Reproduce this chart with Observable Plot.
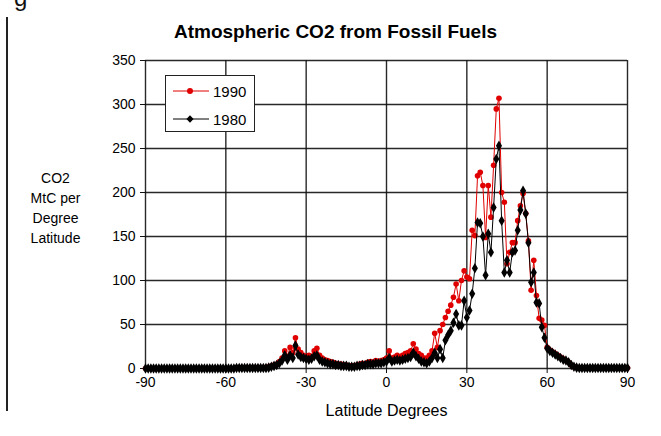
<!DOCTYPE html>
<html>
<head>
<meta charset="utf-8">
<script src="https://cdn.jsdelivr.net/npm/d3@7"></script>
<script src="https://cdn.jsdelivr.net/npm/@observablehq/plot@0.6"></script>
<style>
  body { margin: 0; background: #fff; }
  #wrap { position: relative; width: 661px; height: 436px; overflow: hidden; font-family: "Liberation Sans", Arial, sans-serif; }
  #edge { position: absolute; left: 6px; top: 17px; width: 1.5px; height: 394px; background: #222; }
  #g { position: absolute; left: 14px; top: -16px; font-size: 24px; line-height: 28px; color: #111; }
  #legend { position: absolute; left: 165px; top: 75px; width: 90px; height: 57px; border: 1px solid #222; background: #fff; box-sizing: border-box; }
  .row { position: absolute; left: 6px; height: 18px; display: flex; align-items: center; font-size: 15px; color: #000; }
  .row svg { margin-right: 3px; }
</style>
</head>
<body>
<div id="wrap">
  <div id="edge"></div>
  <div id="g">g</div>
  <div id="chart"></div>
  <div id="legend">
    <div class="row" style="top:6px"><svg width="38" height="12"><line x1="1" y1="6" x2="37" y2="6" stroke="#e00000" stroke-width="1"/><circle cx="18" cy="6" r="3" fill="#e00000"/></svg>1990</div>
    <div class="row" style="top:34px"><svg width="38" height="12"><line x1="1" y1="6" x2="37" y2="6" stroke="#000" stroke-width="1"/><path d="M18,2.2L21.6,6L18,9.8L14.4,6Z" fill="#000"/></svg>1980</div>
  </div>
</div>
<script>
const title = "Atmospheric CO2 from Fossil Fuels";
const xLabel = "Latitude Degrees";
const yLabel = "CO2\nMtC per\nDegree\nLatitude";
const seriesNames = ["1990", "1980"];
const xTicks = [-90, -60, -30, 0, 30, 60, 90];
const yTicks = [0, 50, 100, 150, 200, 250, 300, 350];

// latitude of each value: -90 .. 90, one per degree
const latitudes = [
  -90,-89,-88,-87,-86,-85,-84,-83,-82,-81,-80,-79,-78,-77,-76,-75,-74,-73,-72,-71,
  -70,-69,-68,-67,-66,-65,-64,-63,-62,-61,-60,-59,-58,-57,-56,-55,-54,-53,-52,-51,
  -50,-49,-48,-47,-46,-45,-44,-43,-42,-41,-40,-39,-38,-37,-36,-35,-34,-33,-32,-31,
  -30,-29,-28,-27,-26,-25,-24,-23,-22,-21,-20,-19,-18,-17,-16,-15,-14,-13,-12,-11,
  -10,-9,-8,-7,-6,-5,-4,-3,-2,-1,0,1,2,3,4,5,6,7,8,9,
  10,11,12,13,14,15,16,17,18,19,20,21,22,23,24,25,26,27,28,29,
  30,31,32,33,34,35,36,37,38,39,40,41,42,43,44,45,46,47,48,49,
  50,51,52,53,54,55,56,57,58,59,60,61,62,63,64,65,66,67,68,69,
  70,71,72,73,74,75,76,77,78,79,80,81,82,83,84,85,86,87,88,89,90
];

const co2_1990 = [
  0,0,0,0,0,0,0,0,0,0,0,0,0,0,0,0,0,0,0,0,
  0,0,0,0,0,0,0,0,0,0,0,0,0,0,1,1,1,1,1,1,
  1,1,1,1,1,1,2,3,4,5,8,12,20,14,24,18,35,22,18,15,
  14,15,14,20,23,15,12,10,9,8,7,6,5,5,4,4,3,3,3,4,
  5,6,5,7,8,7,9,8,9,10,12,20,12,13,15,13,15,17,18,20,
  28,22,17,15,12,12,15,20,40,24,43,50,58,65,72,81,96,77,100,111,
  104,102,157,151,219,223,208,149,208,172,231,295,307,200,189,119,132,143,143,168,
  185,199,176,145,89,123,83,57,55,49,24,21,19,17,15,13,11,9,7,4,
  2,1,0.5,0.5,0.5,0.5,0.5,0.5,0.5,0.5,0.5,0.5,0.5,0.5,0.5,0.5,0.5,0.5,0.5,0.5,0.5
];

const co2_1980 = [
  0,0,0,0,0,0,0,0,0,0,0,0,0,0,0,0,0,0,0,0,
  0,0,0,0,0,0,0,0,0,0,0,0,0,0,0.5,0.5,0.5,0.5,0.5,0.5,
  0.5,0.5,0.5,0.5,0.5,0.5,1,2,3,4,6,9,15,10,15,12,26,16,13,12,
  11,10,11,14,15,10,8,7,6,5,5,4,4,3,3,3,2,2,2,3,
  3,4,4,5,5,5,6,6,6,7,8,12,8,9,10,9,10,11,12,13,
  18,14,11,8,7,6,8,12,18,12,22,12,32,38,43,52,62,49,49,77,
  58,66,85,114,166,165,150,106,153,132,183,238,253,168,109,123,109,132,134,157,
  180,202,176,143,98,109,75,74,47,35,23,20,18,16,14,12,10,9,7,4,
  2,1,0.5,0.5,0.5,0.5,0.5,0.5,0.5,0.5,0.5,0.5,0.5,0.5,0.5,0.5,0.5,0.5,0.5,0.5,0.5
];

const d1990 = latitudes.map((lat, i) => ({lat, v: co2_1990[i], s: seriesNames[0]}));
const d1980 = latitudes.map((lat, i) => ({lat, v: co2_1980[i], s: seriesNames[1]}));

const font = "Liberation Sans, Arial, sans-serif";
const chart = Plot.plot({
  width: 661,
  height: 436,
  marginLeft: 145,
  marginRight: 34,
  marginTop: 60,
  marginBottom: 68,
  style: {fontFamily: font, fontSize: "14px", color: "#000", background: "transparent"},
  x: {domain: [-90, 90], ticks: xTicks},
  y: {domain: [0, 350], ticks: yTicks},
  marks: [
    Plot.gridX(xTicks, {stroke: "#111", strokeOpacity: 0.9, strokeWidth: 1.4}),
    Plot.gridY(yTicks, {stroke: "#111", strokeOpacity: 0.9, strokeWidth: 1.4}),
    Plot.axisX({ticks: xTicks, tickSize: 5, tickPadding: 4, fontSize: 14, label: null, stroke: "#111", tickFormat: d => String(d)}),
    Plot.axisY({ticks: yTicks, tickSize: 5, tickPadding: 5, fontSize: 14, label: null, stroke: "#111", tickFormat: d => String(d)}),
    Plot.line(d1990, {x: "lat", y: "v", stroke: "#e00000", strokeWidth: 1}),
    Plot.dot(d1990, {x: "lat", y: "v", r: 2.8, fill: "#e00000", stroke: "none"}),
    Plot.line(d1980, {x: "lat", y: "v", stroke: "#000", strokeWidth: 1}),
    Plot.dot(d1980, {x: "lat", y: "v", symbol: "diamond", r: 3.2, fill: "#000", stroke: "none"}),
    Plot.text([title], {frameAnchor: "top", lineAnchor: "middle", dx: -51, dy: -29, fontSize: 19, fontWeight: "bold", fill: "#000"}),
    Plot.text([xLabel], {frameAnchor: "bottom", lineAnchor: "middle", dy: 42, fontSize: 16, fill: "#000"}),
    Plot.text([yLabel], {frameAnchor: "left", dx: -90, dy: -8, fontSize: 14, lineHeight: 1.43, textAnchor: "middle", fill: "#000"})
  ]
});
document.getElementById("chart").appendChild(chart);
</script>
</body>
</html>
